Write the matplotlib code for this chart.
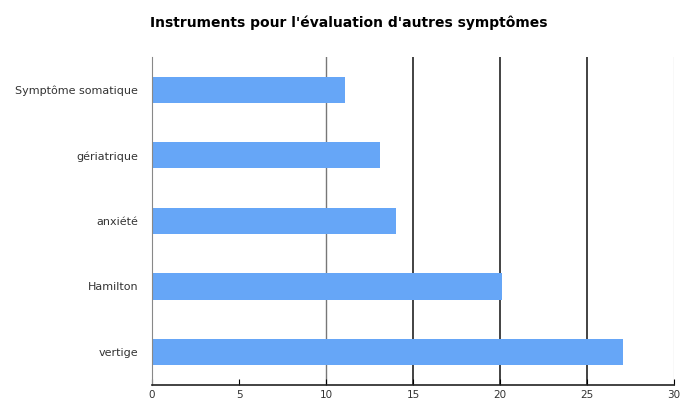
import matplotlib.pyplot as plt

categories = ["Symptôme somatique", "gériatrique", "anxiété", "Hamilton", "vertige"]
values = [11.1, 13.1, 14.0, 20.1, 27.1]
xticks = [0, 5, 10, 15, 20, 25, 30]
title = "Instruments pour l'évaluation d'autres symptômes"

fig = plt.figure(figsize=(6.82, 4.09), dpi=100)
ax = fig.add_axes([0.223, 0.059, 0.765, 0.802])

ypos = list(range(len(categories)))
ax.barh(ypos, values, height=0.4, color="#66a6f7", zorder=2)

ax.set_ylim(len(categories) - 0.5, -0.5)
ax.set_xlim(0, 30)
ax.set_yticks(ypos)
ax.set_yticklabels(categories, fontsize=8, color="#333333")
ax.set_xticks(xticks)
ax.set_xticklabels([str(t) for t in xticks], fontsize=7.5, color="#333333")

# vertical gridlines, darker in the middle like the original
ax.axvline(10, color="#777777", lw=1, zorder=1)
for v in (15, 20, 25):
    ax.axvline(v, color="#222222", lw=1.2, zorder=1)
ax.axvline(30, color="#dddddd", lw=1, zorder=1)

for s in ("top", "right"):
    ax.spines[s].set_visible(False)
ax.spines["left"].set_color("#888888")
ax.spines["bottom"].set_color("#222222")
ax.spines["bottom"].set_linewidth(1.2)
ax.tick_params(axis="y", length=0, pad=10)
ax.tick_params(axis="x", direction="in", length=4, pad=4)

fig.text(0.512, 0.945, title, ha="center", va="center", fontsize=10, fontweight="bold")

fig.savefig("out.png", dpi=100)
